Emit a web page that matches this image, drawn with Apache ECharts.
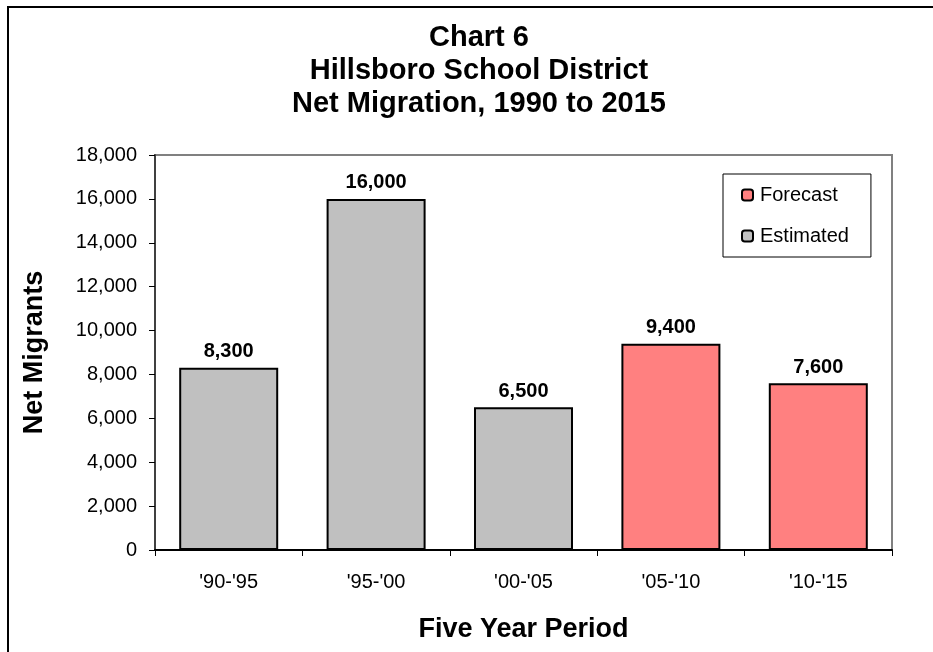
<!DOCTYPE html>
<html>
<head>
<meta charset="utf-8">
<script src="https://cdn.jsdelivr.net/npm/echarts@6/dist/echarts.min.js"></script>
<style>
  html, body { margin: 0; padding: 0; background: #fff; }
  #chart { width: 933px; height: 652px; }
</style>
</head>
<body>
<div id="chart"></div>
<script>
// data
var periods = ["'90-'95", "'95-'00", "'00-'05", "'05-'10", "'10-'15"];
var estimated = [8300, 16000, 6500, '-', '-'];
var forecast = ['-', '-', '-', 9400, 7600];
var yTicks = [0, 2000, 4000, 6000, 8000, 10000, 12000, 14000, 16000, 18000];

var font = 'Liberation Sans, Arial, sans-serif';

function fmt(v) {
    return String(v).replace(/\B(?=(\d{3})+(?!\d))/g, ',');
}

var barLabel = {
    show: true,
    position: 'top',
    distance: 6,
    fontFamily: font,
    fontSize: 20,
    fontWeight: 'bold',
    color: '#000',
    formatter: function (p) { return fmt(p.value); }
};

var chart = echarts.init(document.getElementById('chart'));
var option = {
    animation: false,
    backgroundColor: '#fff',
    textStyle: { fontFamily: font },
    title: {
        text: 'Chart 6\nHillsboro School District\nNet Migration, 1990 to 2015',
        left: 474,
        top: 16,
        textAlign: 'center',
        textStyle: {
            fontFamily: font,
            fontSize: 29,
            fontWeight: 'bold',
            color: '#000',
            lineHeight: 33
        }
    },
    // outer frame, only top and left edges show in the picture
    graphic: [{
        type: 'rect',
        shape: { x: 8, y: 7, width: 2000, height: 2000 },
        style: { fill: 'none', stroke: '#000', lineWidth: 2 },
        silent: true
    }],
    legend: {
        data: ['Forecast', 'Estimated'],
        orient: 'vertical',
        left: 723,
        top: 174,
        padding: [11, 22, 11, 18],
        itemGap: 21,
        itemWidth: 11,
        itemHeight: 11,
        borderColor: '#000',
        borderWidth: 1,
        textStyle: { fontFamily: font, fontSize: 20, color: '#000', padding: [0, 0, 0, 2] }
    },
    grid: {
        left: 155,
        top: 155,
        right: 41,
        bottom: 102,
        show: true,
        borderColor: '#808080',
        borderWidth: 2,
        containLabel: false
    },
    xAxis: {
        type: 'category',
        data: periods,
        name: 'Five Year Period',
        nameLocation: 'middle',
        nameGap: 66,
        nameMoveOverlap: false,
        nameTextStyle: { fontFamily: font, fontSize: 27, fontWeight: 'bold', color: '#000' },
        axisLine: { lineStyle: { color: '#000', width: 2 } },
        axisTick: { show: true, length: 6, lineStyle: { color: '#000', width: 1 } },
        axisLabel: { fontFamily: font, fontSize: 20, color: '#000', margin: 22 }
    },
    yAxis: {
        type: 'value',
        min: yTicks[0],
        max: yTicks[yTicks.length - 1],
        interval: 2000,
        name: 'Net Migrants',
        nameLocation: 'middle',
        nameGap: 107,
        nameMoveOverlap: false,
        nameTextStyle: { fontFamily: font, fontSize: 27, fontWeight: 'bold', color: '#000' },
        axisLine: { show: true, lineStyle: { color: '#404040', width: 2 } },
        axisTick: { show: true, length: 6, lineStyle: { color: '#000', width: 1 } },
        splitLine: { show: false },
        axisLabel: {
            fontFamily: font, fontSize: 20, color: '#000', margin: 18,
            formatter: function (v) { return fmt(v); }
        }
    },
    series: [{
        name: 'Estimated',
        type: 'bar',
        data: estimated,
        barWidth: 99,
        barGap: '-100%',
        itemStyle: { color: '#C0C0C0', borderColor: '#000', borderWidth: 2 },
        label: barLabel
    }, {
        name: 'Forecast',
        type: 'bar',
        data: forecast,
        barWidth: 99,
        barGap: '-100%',
        itemStyle: { color: '#FF8080', borderColor: '#000', borderWidth: 2 },
        label: barLabel
    }]
};
chart.setOption(option);
</script>
</body>
</html>
